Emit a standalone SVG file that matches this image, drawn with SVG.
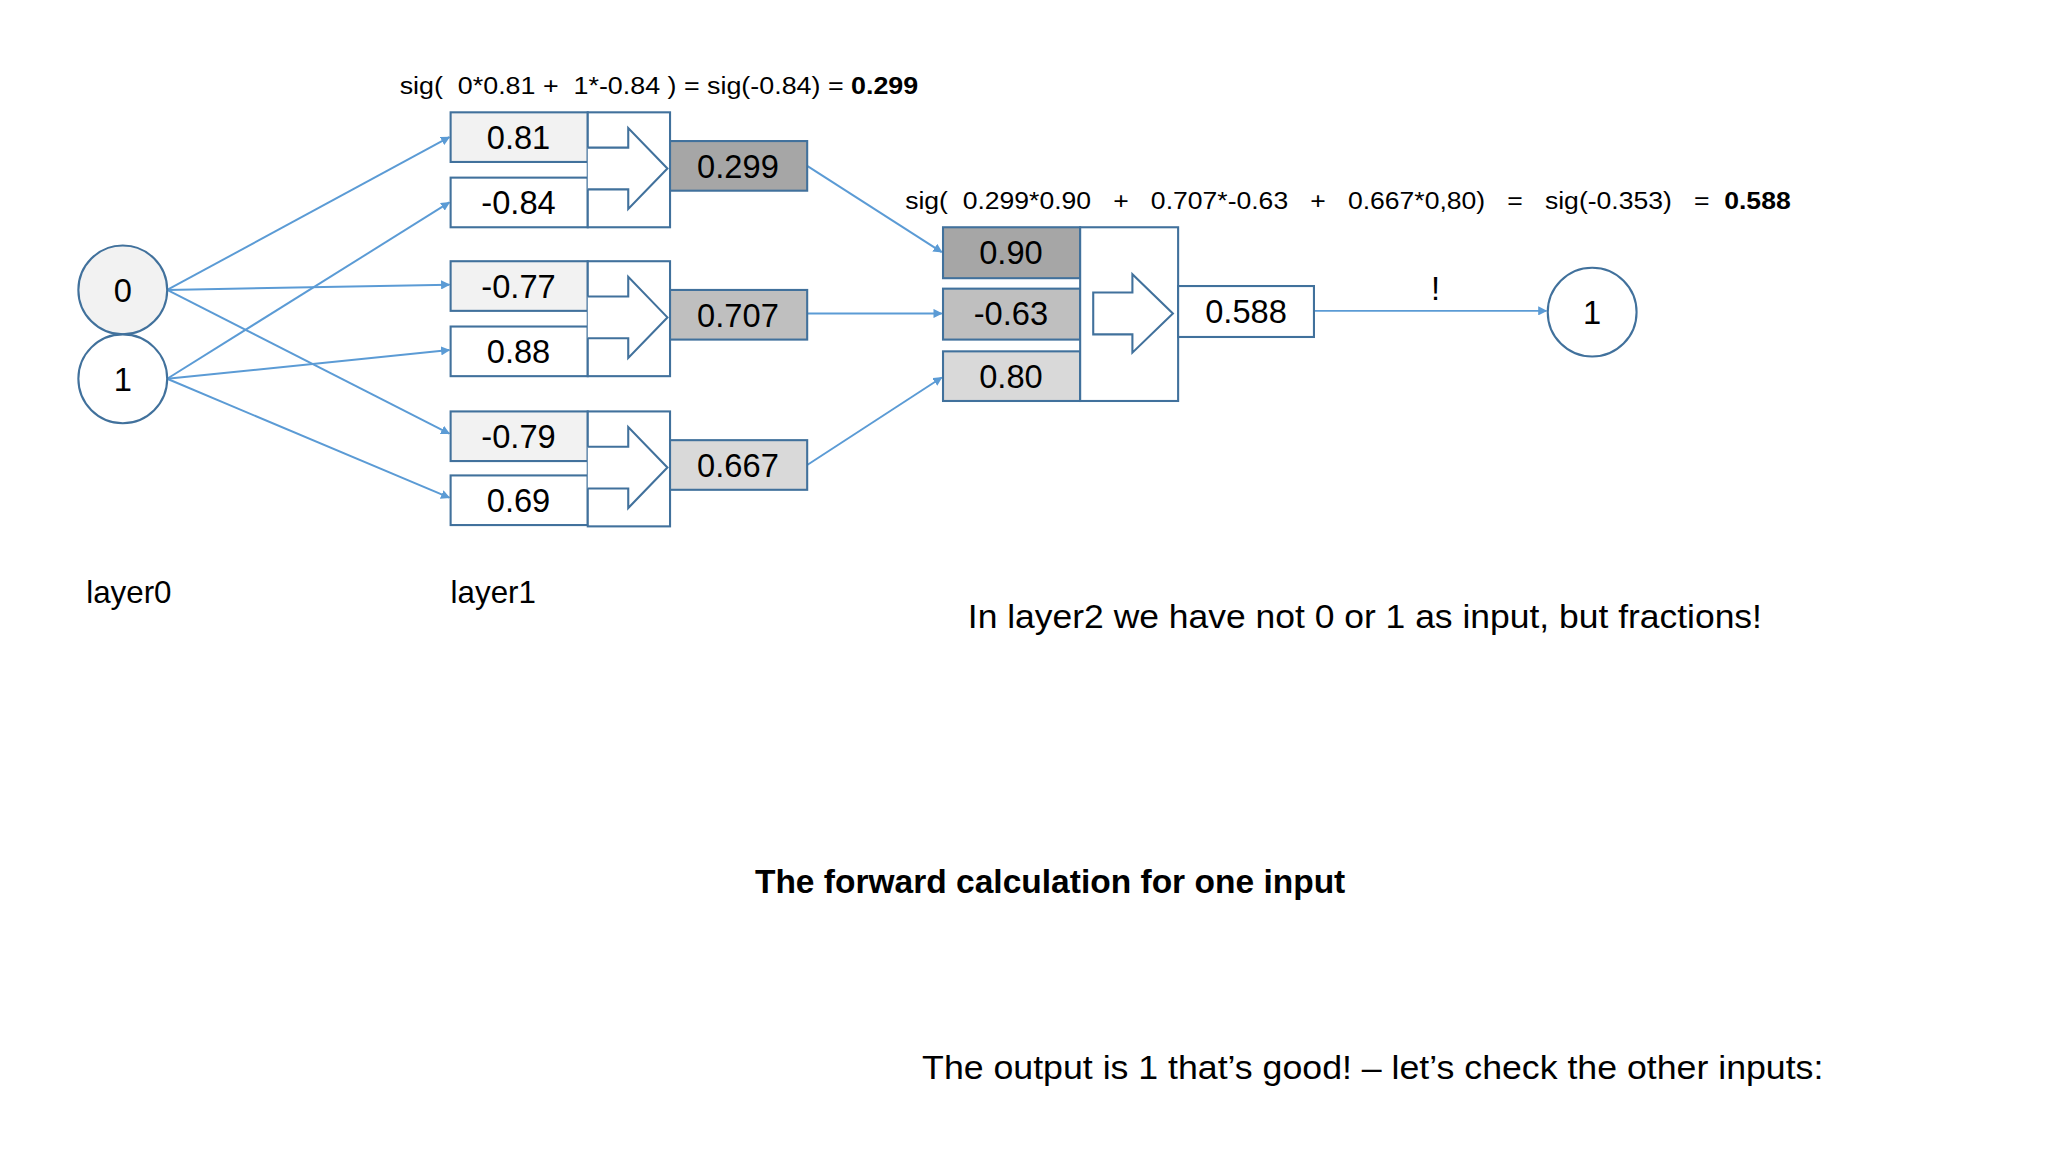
<svg xmlns="http://www.w3.org/2000/svg" width="2048" height="1152" viewBox="0 0 2048 1152">
<defs>
<style>
text{font-family:"Liberation Sans","Open Sans",sans-serif;fill:#000}
.b{stroke:#41719c;stroke-width:1.6}
.v{font-size:25px;text-anchor:middle}
.c{stroke:#5b9bd5;stroke-width:1.5;fill:none;marker-end:url(#ah)}
.f{font-size:19px}
.t{font-size:26px}
</style>
<marker id="ah" viewBox="0 0 10 10" refX="9" refY="5" markerWidth="7" markerHeight="7" markerUnits="userSpaceOnUse" orient="auto"><path d="M0,0L10,5L0,10z" fill="#5b9bd5"/></marker>
</defs>
<rect width="2048" height="1152" fill="#fff"/>
<g transform="scale(1.30612)">
<g id="connectors">
<line class="c" x1="128" y1="222" x2="344" y2="105"/>
<line class="c" x1="128" y1="222" x2="344" y2="218"/>
<line class="c" x1="128" y1="222" x2="344" y2="332"/>
<line class="c" x1="128" y1="290" x2="344" y2="155"/>
<line class="c" x1="128" y1="290" x2="344" y2="268"/>
<line class="c" x1="128" y1="290" x2="344" y2="381"/>
<line class="c" x1="618" y1="127" x2="721" y2="193"/>
<line class="c" x1="618" y1="240" x2="721" y2="240"/>
<line class="c" x1="618" y1="356" x2="721" y2="289"/>
<line class="c" x1="1006" y1="238" x2="1184" y2="238"/>
</g>
<g id="in0"><circle class="b" cx="94" cy="222" r="34" fill="#f2f2f2"/><text class="v" x="94" y="231">0</text></g>
<g id="in1"><circle class="b" cx="94" cy="290" r="34" fill="#fff"/><text class="v" x="94" y="299">1</text></g>
<g id="n1">
<rect class="b" x="345" y="86" width="105" height="38" fill="#f2f2f2"/><text class="v" x="397" y="114">0.81</text>
<rect class="b" x="345" y="136" width="105" height="38" fill="#fff"/><text class="v" x="397" y="164">-0.84</text>
<rect class="b" x="450" y="86" width="63" height="88" fill="#fff"/>
<path class="b" d="M450,113H481V98L511,129L481,160V145H450" fill="#fff"/>
<rect class="b" x="513" y="108" width="105" height="38" fill="#a6a6a6"/><text class="v" x="565" y="136">0.299</text>
</g>
<g id="n2">
<rect class="b" x="345" y="200" width="105" height="38" fill="#f2f2f2"/><text class="v" x="397" y="228">-0.77</text>
<rect class="b" x="345" y="250" width="105" height="38" fill="#fff"/><text class="v" x="397" y="278">0.88</text>
<rect class="b" x="450" y="200" width="63" height="88" fill="#fff"/>
<path class="b" d="M450,227H481V212L511,243L481,274V259H450" fill="#fff"/>
<rect class="b" x="513" y="222" width="105" height="38" fill="#bfbfbf"/><text class="v" x="565" y="250">0.707</text>
</g>
<g id="n3">
<rect class="b" x="345" y="315" width="105" height="38" fill="#f2f2f2"/><text class="v" x="397" y="343">-0.79</text>
<rect class="b" x="345" y="364" width="105" height="38" fill="#fff"/><text class="v" x="397" y="392">0.69</text>
<rect class="b" x="450" y="315" width="63" height="88" fill="#fff"/>
<path class="b" d="M450,342H481V327L511,358L481,389V374H450" fill="#fff"/>
<rect class="b" x="513" y="337" width="105" height="38" fill="#d9d9d9"/><text class="v" x="565" y="365">0.667</text>
</g>
<g id="n4">
<rect class="b" x="722" y="174" width="105" height="39" fill="#a6a6a6"/><text class="v" x="774" y="202">0.90</text>
<rect class="b" x="722" y="221" width="105" height="39" fill="#bfbfbf"/><text class="v" x="774" y="249">-0.63</text>
<rect class="b" x="722" y="269" width="105" height="38" fill="#d9d9d9"/><text class="v" x="774" y="297">0.80</text>
<rect class="b" x="827" y="174" width="75" height="133" fill="#fff"/>
<path class="b" d="M837,224H867V210L898,240L867,270V256H837Z" fill="#fff"/>
</g>
<g id="n5"><rect class="b" x="902" y="219" width="104" height="39" fill="#fff"/><text class="v" x="954" y="247">0.588</text></g>
<g id="out"><circle class="b" cx="1219" cy="239" r="34" fill="#fff"/><text class="v" x="1219" y="248">1</text></g>
<text class="v" x="1099" y="230">!</text>
<text class="f" x="306" y="72" textLength="397" lengthAdjust="spacingAndGlyphs" xml:space="preserve">sig(  0*0.81 +  1*-0.84 ) = sig(-0.84) = <tspan font-weight="bold">0.299</tspan></text>
<text class="f" x="693" y="160" textLength="678" lengthAdjust="spacingAndGlyphs" xml:space="preserve">sig(  0.299*0.90   +   0.707*-0.63   +   0.667*0,80)   =   sig(-0.353)   =  <tspan font-weight="bold">0.588</tspan></text>
<text x="66" y="462" font-size="24">layer0</text>
<text x="345" y="462" font-size="24">layer1</text>
<text class="t" x="741" y="481" textLength="608" lengthAdjust="spacingAndGlyphs">In layer2 we have not 0 or 1 as input, but fractions!</text>
<text class="t" x="804" y="684" text-anchor="middle" font-weight="bold" textLength="452" lengthAdjust="spacingAndGlyphs">The forward calculation for one input</text>
<text class="t" x="706" y="826" textLength="690" lengthAdjust="spacingAndGlyphs">The output is 1 that’s good! – let’s check the other inputs:</text>
</g>
</svg>
